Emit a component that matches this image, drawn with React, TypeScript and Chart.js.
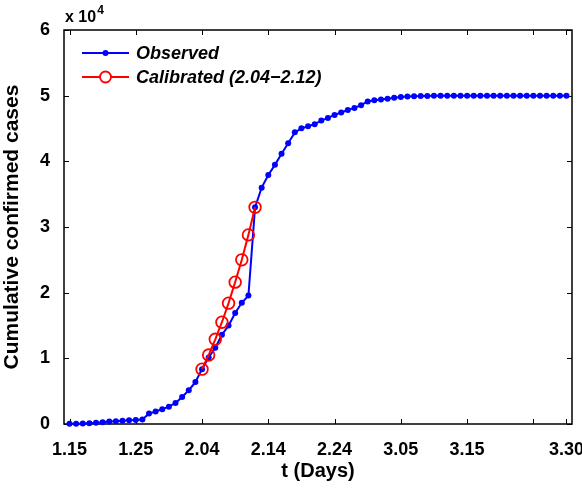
import React, { useEffect, useRef } from "react";
import { Chart, registerables } from "chart.js";

Chart.register(...registerables);

// Observed cumulative confirmed cases, one value per day from 1.15 to 3.30
const observed = [
  41, 45, 62, 121, 198, 258, 363, 425, 495, 572, 618, 698, 1590, 1905, 2261, 2639, 3215,
  4109, 5142, 6384, 8351, 10117, 11618, 13603, 14982, 16902, 18454, 19558, 32994, 35991,
  37914, 39462, 41152, 42752, 44412, 45027, 45346, 45660, 46201, 46607, 47071, 47441,
  47824, 48137, 48557, 49122,
  49315, 49426, 49540, 49671, 49797, 49871, 49912, 49948, 49965, 49978, 49986, 49991,
  49995, 49999, 50003, 50004, 50005, 50005, 50005, 50005, 50005, 50006, 50006, 50006,
  50006, 50006, 50006, 50006, 50006, 50006,
];

// Calibrated values, 2.04 to 2.12
const calibrated = [8351, 10500, 12900, 15500, 18400, 21600, 25000, 28800, 32994];
const calibratedStartDay = 20;

// x tick positions (days since 1.15) and labels
const xTickDays = [0, 10, 20, 30, 40, 50, 60, 70, 75];
const xTickLabels = ["1.15", "1.25", "2.04", "2.14", "2.24", "3.05", "3.15", "", "3.30"];

// y ticks
const yTickValues = [0, 10000, 20000, 30000, 40000, 50000, 60000];
const yTickLabels = ["0", "1", "2", "3", "4", "5", "6"];

const legendLabels = ["Observed", "Calibrated (2.04\u22122.12)"];

const FONT = "'Liberation Sans', Arial, Helvetica, sans-serif";
const BLUE = "#0000ff";
const RED = "#ff0000";

const framePlugin = {
  id: "frame",
  beforeDatasetsDraw(chart: any) {
    const { ctx, chartArea, scales } = chart;
    const { left, right, top, bottom } = chartArea;
    const x = scales.x;
    const y = scales.y;
    ctx.save();
    ctx.strokeStyle = "#000";
    ctx.lineWidth = 1.5;
    ctx.strokeRect(left, top, right - left, bottom - top);
    const tl = 5;
    ctx.beginPath();
    for (const d of xTickDays) {
      const px = Math.round(x.getPixelForValue(d)) + 0.5;
      ctx.moveTo(px, bottom);
      ctx.lineTo(px, bottom - tl);
      ctx.moveTo(px, top);
      ctx.lineTo(px, top + tl);
    }
    for (const v of yTickValues) {
      const py = Math.round(y.getPixelForValue(v)) + 0.5;
      ctx.moveTo(left, py);
      ctx.lineTo(left + tl, py);
      ctx.moveTo(right, py);
      ctx.lineTo(right - tl, py);
    }
    ctx.lineWidth = 1;
    ctx.stroke();
    ctx.restore();
  },
  afterDraw(chart: any) {
    const { ctx, chartArea } = chart;
    const { left } = chartArea;
    ctx.save();
    // exponent label
    ctx.fillStyle = "#000";
    ctx.textBaseline = "middle";
    ctx.textAlign = "left";
    ctx.font = `bold 16px ${FONT}`;
    const base = "x 10";
    ctx.fillText(base, left + 1, 18);
    const w = ctx.measureText(base).width;
    ctx.font = `bold 12px ${FONT}`;
    ctx.fillText("4", left + 2 + w, 11);

    // legend
    const lx0 = 82;
    const lx1 = 129;
    const mx = (lx0 + lx1) / 2;
    const ys = [53, 77];
    // Observed
    ctx.strokeStyle = BLUE;
    ctx.lineWidth = 2;
    ctx.beginPath();
    ctx.moveTo(lx0, ys[0]);
    ctx.lineTo(lx1, ys[0]);
    ctx.stroke();
    ctx.fillStyle = BLUE;
    ctx.beginPath();
    ctx.arc(mx, ys[0], 3, 0, Math.PI * 2);
    ctx.fill();
    // Calibrated
    ctx.strokeStyle = RED;
    ctx.lineWidth = 2;
    ctx.beginPath();
    ctx.moveTo(lx0, ys[1]);
    ctx.lineTo(lx1, ys[1]);
    ctx.stroke();
    ctx.fillStyle = "#fff";
    ctx.lineWidth = 1.8;
    ctx.beginPath();
    ctx.arc(mx, ys[1], 5.5, 0, Math.PI * 2);
    ctx.fill();
    ctx.stroke();

    ctx.fillStyle = "#000";
    ctx.font = `italic bold 18px ${FONT}`;
    ctx.textBaseline = "middle";
    ctx.fillText(legendLabels[0], 136, ys[0] + 1);
    ctx.fillText(legendLabels[1], 136, ys[1] + 1);
    ctx.restore();
  },
};

export default function App() {
  const ref = useRef<HTMLCanvasElement | null>(null);

  useEffect(() => {
    if (!ref.current) return;
    const obsData = observed.map((v, i) => ({ x: i, y: v }));
    const calData = calibrated.map((v, i) => ({ x: calibratedStartDay + i, y: v }));

    const chart = new Chart(ref.current, {
      type: "line",
      data: {
        datasets: [
          {
            label: legendLabels[1],
            data: calData,
            borderColor: RED,
            borderWidth: 2,
            pointRadius: 5.8,
            pointBorderWidth: 1.8,
            pointBorderColor: RED,
            pointBackgroundColor: "rgba(0,0,0,0)",
            pointStyle: "circle",
            fill: false,
            tension: 0,
            clip: false as any,
            order: 0,
          },
          {
            label: legendLabels[0],
            data: obsData,
            borderColor: BLUE,
            borderWidth: 2,
            pointRadius: 3,
            pointBorderWidth: 0,
            pointBackgroundColor: BLUE,
            pointBorderColor: BLUE,
            fill: false,
            tension: 0,
            clip: false as any,
            order: 1,
          },
        ],
      },
      options: {
        responsive: false,
        animation: false,
        events: [],
        layout: { padding: { left: 0, right: 10, top: 30, bottom: 0 } },
        plugins: {
          legend: { display: false },
          tooltip: { enabled: false },
        },
        scales: {
          x: {
            type: "linear",
            min: -0.83,
            max: 75.83,
            grid: { display: false },
            border: { display: false },
            afterBuildTicks: (scale: any) => {
              scale.ticks = xTickDays
                .filter((_, i) => xTickLabels[i] !== "")
                .map((v) => ({ value: v }));
            },
            afterFit: (scale: any) => {
              scale.height = 67;
              scale.paddingLeft = 0;
              scale.paddingRight = 0;
            },
            ticks: {
              autoSkip: false,
              maxRotation: 0,
              minRotation: 0,
              padding: 7,
              color: "#000",
              font: { family: FONT, size: 18, weight: "bold" },
              callback: (v: any) => {
                const i = xTickDays.indexOf(Number(v));
                return i >= 0 ? xTickLabels[i] : "";
              },
            },
            title: {
              display: true,
              text: "t (Days)",
              color: "#000",
              font: { family: FONT, size: 20, weight: "bold" },
              padding: { top: 0, bottom: 8 },
            },
          },
          y: {
            type: "linear",
            min: 0,
            max: 60000,
            grid: { display: false },
            border: { display: false },
            afterBuildTicks: (scale: any) => {
              scale.ticks = yTickValues.map((v) => ({ value: v }));
            },
            afterFit: (scale: any) => {
              scale.width = 64;
              scale.paddingTop = 0;
              scale.paddingBottom = 0;
            },
            ticks: {
              padding: 6,
              color: "#000",
              font: { family: FONT, size: 18, weight: "bold" },
              callback: (v: any) => {
                const i = yTickValues.indexOf(Number(v));
                return i >= 0 ? yTickLabels[i] : "";
              },
            },
            title: {
              display: true,
              text: "Cumulative confirmed cases",
              color: "#000",
              font: { family: FONT, size: 21, weight: "bold" },
              padding: { top: 0, bottom: 0 },
            },
          },
        },
      },
      plugins: [framePlugin],
    } as any);

    return () => chart.destroy();
  }, []);

  return (
    <div style={{ position: "absolute", left: 0, top: 0, width: 582, height: 491, background: "#fff" }}>
      <canvas ref={ref} width={582} height={491} style={{ display: "block" }} />
    </div>
  );
}
